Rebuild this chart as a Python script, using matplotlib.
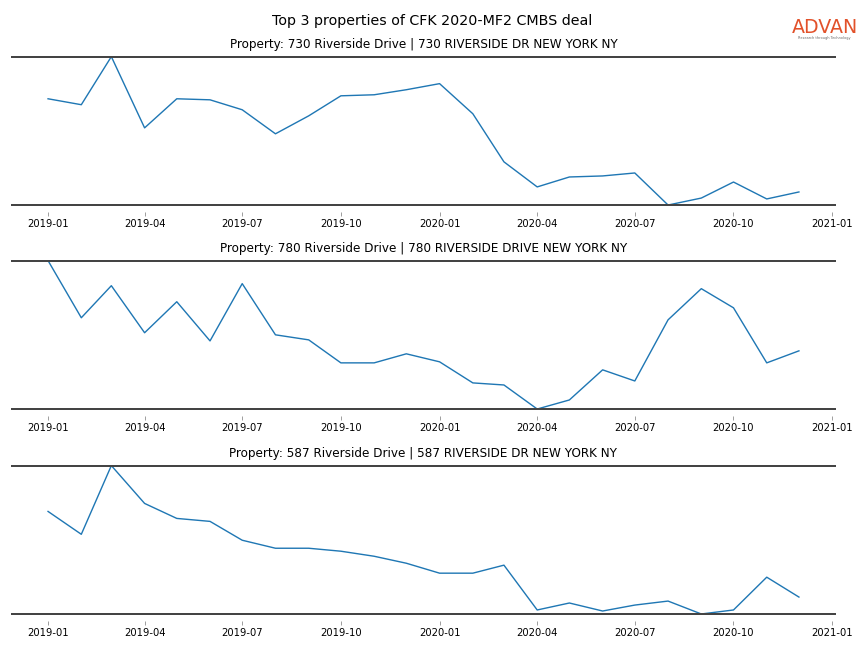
import matplotlib
matplotlib.use("Agg")
import matplotlib.pyplot as plt
import matplotlib.dates as mdates
import pandas as pd

# monthly index values (relative, 0 = min, 100 = max)
months = pd.date_range("2019-01-01", "2020-12-01", freq="MS")

titles = [
    "Property: 730 Riverside Drive | 730 RIVERSIDE DR NEW YORK NY",
    "Property: 780 Riverside Drive | 780 RIVERSIDE DRIVE NEW YORK NY",
    "Property: 587 Riverside Drive | 587 RIVERSIDE DR NEW YORK NY",
]

prop_730 = [71.6, 67.6, 100.0, 52.0, 71.6, 70.9, 64.2, 48.0, 60.1, 73.6, 74.3, 77.7,
            81.8, 61.5, 29.1, 12.2, 18.9, 19.6, 21.6, 0.0, 4.7, 15.5, 4.1, 8.8]
prop_780 = [100.0, 61.5, 83.1, 51.4, 72.3, 45.9, 84.5, 50.0, 46.6, 31.1, 31.1, 37.2,
            31.8, 17.6, 16.2, 0.0, 6.1, 26.4, 18.9, 60.1, 81.1, 68.2, 31.1, 39.2]
prop_587 = [69.1, 53.7, 100.0, 74.5, 64.4, 62.4, 49.7, 44.3, 44.3, 42.3, 38.9, 34.2,
            27.5, 27.5, 32.9, 2.7, 7.4, 2.0, 6.0, 8.7, 0.0, 2.7, 24.8, 11.4]

series = [prop_730, prop_780, prop_587]

fig = plt.figure(figsize=(12, 9), dpi=72)
fig.suptitle("Top 3 properties of CFK 2020-MF2 CMBS deal", fontsize=14.3, y=0.979)

# logo
fig.text(0.9545, 0.958, "ADVAN", color="#e2512a", fontsize=19, ha="center", va="center")
fig.text(0.9545, 0.941, "Research through Technology", color="#666666", fontsize=3.5,
         ha="center", va="center")

bottoms = [0.6836, 0.3688, 0.0525]
for vals, title, b in zip(series, titles, bottoms):
    ax = fig.add_axes([0.0139, b, 0.9525, 0.2290])
    ax.plot(months, vals, color="#1f77b4", linewidth=1.4)
    ax.margins(x=0.048, y=0)
    ax.set_title(title, fontsize=12, pad=9)
    for side in ["left", "right"]:
        ax.spines[side].set_visible(False)
    ax.spines["top"].set_color("#444444")
    ax.spines["top"].set_linewidth(2)
    # bottom line drawn separately, ticks sit a little below it
    ax.spines["bottom"].set_position(("outward", 7))
    ax.spines["bottom"].set_visible(False)
    ax.axhline(min(vals), color="#444444", linewidth=2, clip_on=False)
    ax.set_yticks([])
    ax.xaxis.set_major_locator(mdates.MonthLocator(bymonth=[1, 4, 7, 10]))
    ax.xaxis.set_major_formatter(mdates.DateFormatter("%Y-%m"))
    ax.tick_params(axis="x", labelsize=10, length=4, color="#888888", pad=3)

plt.savefig("out.png", dpi=72)
